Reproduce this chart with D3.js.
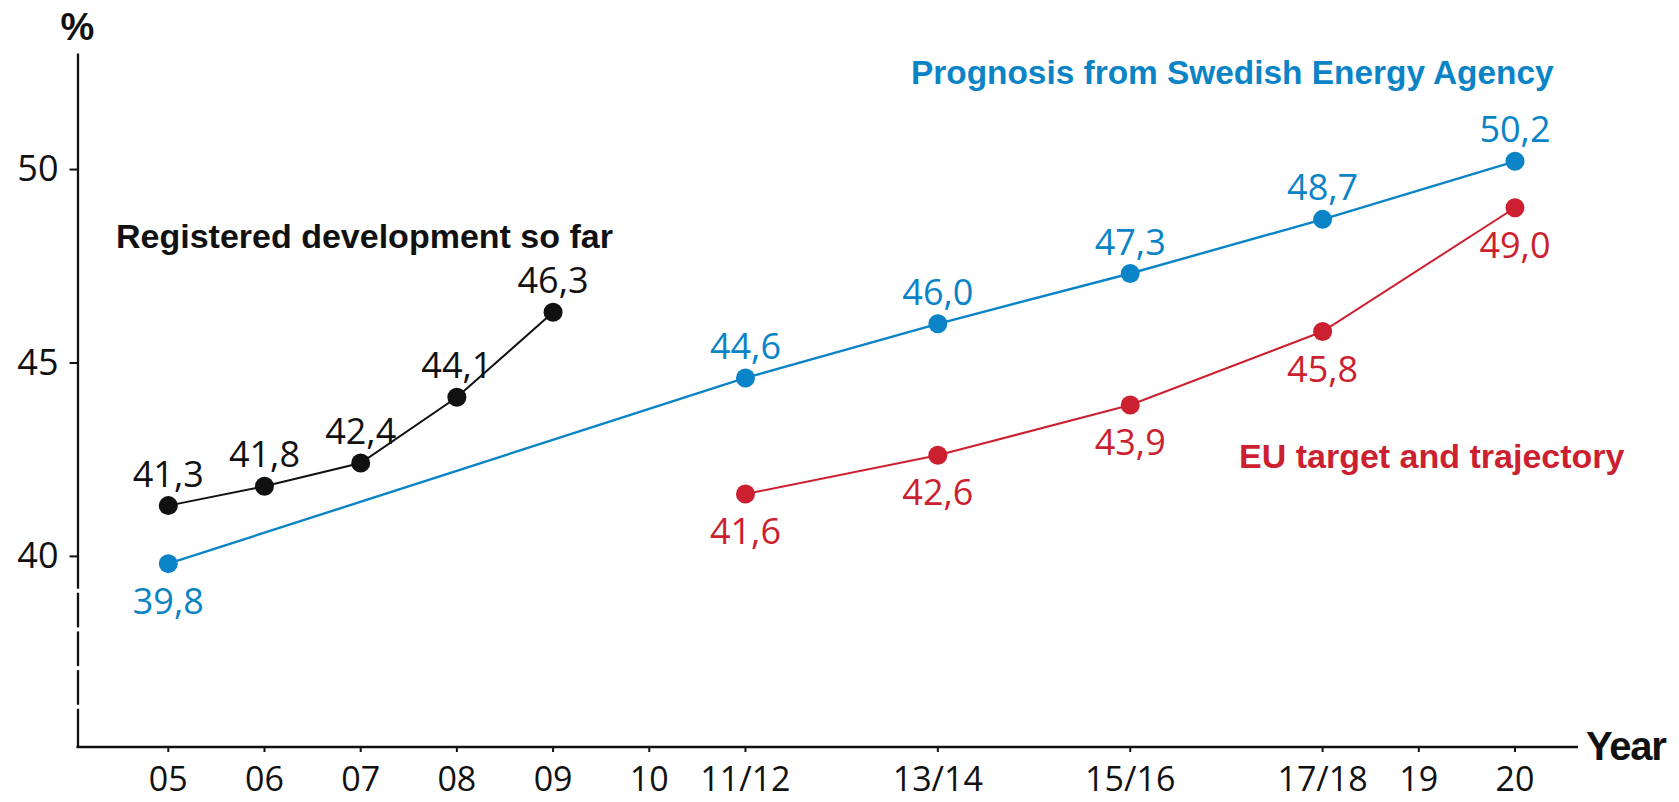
<!DOCTYPE html>
<html>
<head>
<meta charset="utf-8">
<script src="https://cdn.jsdelivr.net/npm/d3@7"></script>
<style>
    body { margin: 0; background: #fff; }
    svg { display: block; }
</style>
</head>
<body>
<div id="chart"></div>
<script>
// x categories and their slot on the axis (some years are merged)
const xLabels = ["05", "06", "07", "08", "09", "10", "11/12", "13/14", "15/16", "17/18", "19", "20"];
const xSlots  = [0, 1, 2, 3, 4, 5, 6, 8, 10, 12, 13, 14];

// y ticks
const yTicks = [40, 45, 50];

// registered development so far
const regYears  = ["05", "06", "07", "08", "09"];
const regValues = [41.3, 41.8, 42.4, 44.1, 46.3];

// prognosis from Swedish Energy Agency
const progYears  = ["05", "11/12", "13/14", "15/16", "17/18", "20"];
const progValues = [39.8, 44.6, 46.0, 47.3, 48.7, 50.2];

// EU target and trajectory
const euYears  = ["11/12", "13/14", "15/16", "17/18", "20"];
const euValues = [41.6, 42.6, 43.9, 45.8, 49.0];

const width = 1679, height = 802;
const black = "#111", blue = "#0a84c6", red = "#cc1f30";

const slotOf = new Map(xLabels.map((l, i) => [l, xSlots[i]]));

// scales
const x = d3.scaleLinear().domain([0, 14]).range([168.3, 1515]);
const y = d3.scaleLinear().domain([35.06, 53]).range([747, 53]);

const axisX = 77.5, axisY = y(35.06);

const fmt = d3.formatLocale({ decimal: ",", thousands: " ", grouping: [3], currency: ["", ""] }).format(".1f");

const svg = d3.create("svg")
    .attr("width", width)
    .attr("height", height)
    .style("font-family", "'Open Sans', sans-serif");

// y axis
const yAxis = svg.append("g")
    .attr("transform", `translate(${axisX},0)`)
    .call(d3.axisLeft(y).tickValues(yTicks).tickSize(8).tickSizeOuter(0).tickPadding(11));
yAxis.select(".domain").attr("stroke", black).attr("stroke-width", 2.3);
yAxis.selectAll(".tick line").attr("stroke", black).attr("stroke-width", 2);
yAxis.selectAll(".tick text")
    .attr("fill", black)
    .attr("font-size", 36)
    .attr("font-family", "'Open Sans', sans-serif");

// small breaks in the y axis below 40
const breakVals = [39.1, 38.1, 37.1, 36.1];
svg.append("g")
    .selectAll("rect")
    .data(breakVals)
    .join("rect")
    .attr("x", axisX - 3)
    .attr("y", d => y(d) - 2)
    .attr("width", 6)
    .attr("height", 4)
    .attr("fill", "#fff");

// x axis
const xAxis = svg.append("g")
    .attr("transform", `translate(0,${axisY})`);
xAxis.append("line")
    .attr("x1", axisX - 1).attr("x2", 1578)
    .attr("y1", 0).attr("y2", 0)
    .attr("stroke", black).attr("stroke-width", 2.3);
xAxis.selectAll(".xtick")
    .data(xLabels)
    .join("line")
    .attr("class", "xtick")
    .attr("x1", d => x(slotOf.get(d)))
    .attr("x2", d => x(slotOf.get(d)))
    .attr("y1", 0).attr("y2", 5)
    .attr("stroke", black).attr("stroke-width", 2);
xAxis.selectAll(".xlabel")
    .data(xLabels)
    .join("text")
    .attr("class", "xlabel")
    .attr("x", d => x(slotOf.get(d)))
    .attr("y", 44)
    .attr("text-anchor", "middle")
    .attr("font-size", 34)
    .attr("fill", black)
    .text(d => d);

// axis titles
svg.append("text")
    .attr("x", axisX).attr("y", 40)
    .attr("text-anchor", "middle")
    .attr("font-family", "'Liberation Sans', Arial, sans-serif")
    .attr("font-weight", "bold")
    .attr("font-size", 38)
    .attr("fill", black)
    .text("%");

svg.append("text")
    .attr("x", 1586).attr("y", 760)
    .attr("font-family", "'Liberation Sans', Arial, sans-serif")
    .attr("font-weight", "bold")
    .attr("font-size", 40)
    .attr("letter-spacing", -1.2)
    .attr("fill", black)
    .text("Year");

// series
const series = [
    { years: regYears, values: regValues, color: black, width: 2, below: () => false },
    { years: progYears, values: progValues, color: blue, width: 2.4, below: (d, i) => i === 0 },
    { years: euYears, values: euValues, color: red, width: 2, below: () => true }
];

const line = d3.line()
    .x(d => x(slotOf.get(d.year)))
    .y(d => y(d.value));

series.forEach(s => {
    const pts = s.years.map((yr, i) => ({ year: yr, value: s.values[i] }));

    svg.append("path")
        .datum(pts)
        .attr("d", line)
        .attr("fill", "none")
        .attr("stroke", s.color)
        .attr("stroke-width", s.width);

    svg.append("g")
        .selectAll("circle")
        .data(pts)
        .join("circle")
        .attr("cx", d => x(slotOf.get(d.year)))
        .attr("cy", d => y(d.value))
        .attr("r", 9.5)
        .attr("fill", s.color);

    svg.append("g")
        .selectAll("text")
        .data(pts)
        .join("text")
        .attr("x", d => x(slotOf.get(d.year)))
        .attr("y", (d, i) => y(d.value) + (s.below(d, i) ? 50 : -19))
        .attr("text-anchor", "middle")
        .attr("font-size", 36)
        .attr("fill", s.color)
        .text(d => fmt(d.value));
});

// series names
const names = [
    { text: "Registered development so far", color: black, x: 116, y: 248, size: 34 },
    { text: "Prognosis from Swedish Energy Agency", color: blue, x: 911, y: 84, size: 33.4 },
    { text: "EU target and trajectory", color: red, x: 1239, y: 468, size: 34 }
];
svg.append("g")
    .selectAll("text")
    .data(names)
    .join("text")
    .attr("x", d => d.x)
    .attr("y", d => d.y)
    .attr("font-family", "'Liberation Sans', Arial, sans-serif")
    .attr("font-weight", "bold")
    .attr("font-size", d => d.size)
    .attr("fill", d => d.color)
    .text(d => d.text);

document.getElementById("chart").appendChild(svg.node());
</script>
</body>
</html>
